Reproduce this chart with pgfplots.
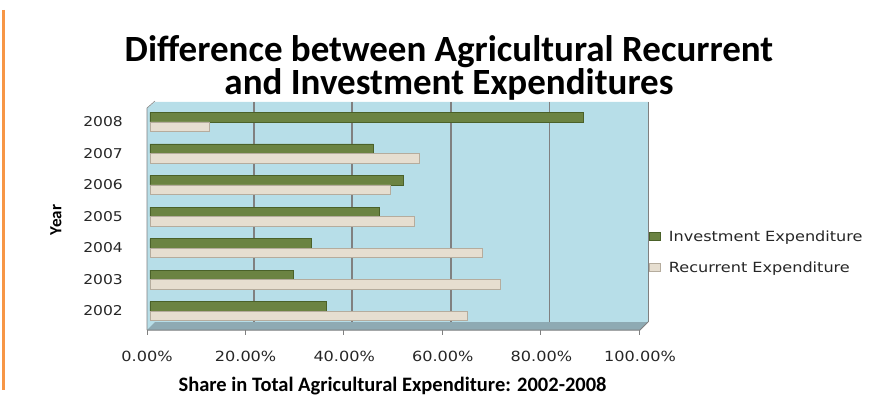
\documentclass[border=0pt]{standalone}
\usepackage{fontspec}
\setmainfont{Carlito}
\newfontfamily\lbl[FakeStretch=1.15]{DejaVu Sans}
\usepackage{pgfplots}
\pgfplotsset{compat=1.18}
\definecolor{bgblue}{HTML}{B7DEE8}
\definecolor{floorc}{HTML}{8EAAB3}
\definecolor{invc}{HTML}{6B8342}
\definecolor{invd}{HTML}{4A6129}
\definecolor{recc}{HTML}{E6DED0}
\definecolor{recd}{HTML}{B5AC9D}
\definecolor{gridc}{HTML}{808080}
\definecolor{orangec}{HTML}{F79646}
\definecolor{txt}{HTML}{262626}
\begin{document}
\begin{tikzpicture}
\path[use as bounding box] (0,0) rectangle (879pt,-396pt);
% chart frame line
\draw[orangec, line width=2.5pt] (3.5pt,-10pt) -- (3.5pt,-390pt);
% back wall and side wall
\fill[bgblue] (155pt,-102pt) -- (648pt,-102pt) -- (648pt,-322pt) -- (640pt,-330pt) -- (147pt,-330pt) -- (147pt,-108pt) -- cycle;
% floor
\fill[floorc] (147pt,-330pt) -- (640pt,-330pt) -- (648pt,-322pt) -- (155pt,-322pt) -- cycle;
\draw[gridc, line width=0.6pt] (147pt,-330pt) -- (147pt,-108pt) -- (155pt,-101pt);
\draw[gridc, line width=0.6pt] (648pt,-102pt) -- (648pt,-322pt);
\draw[gridc, line width=1pt] (147pt,-330pt) -- (640pt,-330pt) -- (648pt,-322pt);
\foreach \xx in {147,245.4,343.8,442.2,540.6,639} {\draw[gridc, line width=1pt] (\xx pt,-330pt) -- (\xx pt,-335pt);}
% back wall grid
\foreach \xx in {253.6,352.2,450.8,549.4} {\draw[gridc, line width=1.8pt] (\xx pt,-102pt) -- (\xx pt,-322pt);}
% title
\node[anchor=base, font=\bfseries\fontsize{37}{40}\selectfont, text=black, inner sep=0pt] at (449pt,-61.5pt) {Difference between Agricultural Recurrent};
\node[anchor=base, font=\bfseries\fontsize{37}{40}\selectfont, text=black, inner sep=0pt] at (449pt,-95pt) {and Investment Expenditures};
\begin{axis}[
  at={(150pt,-330pt)}, anchor=south west,
  scale only axis, width=493pt, height=227pt,
  xmin=0, xmax=100, ymin=-0.603, ymax=6.603,
  axis line style={draw=none},
  axis background/.style={fill=none},
  xbar, bar width=9.5pt,
  xtick={0,20,40,60,80,100},
  xticklabel={\pgfmathprintnumber[fixed,fixed zerofill,precision=2,assume math mode=true]{\tick}\%},
  xticklabel style={font=\lbl\fontsize{14}{16}\selectfont, text=txt, anchor=base, inner sep=0pt, yshift=-31pt, xshift=-3pt},
  ytick={0,1,2,3,4,5,6},
  yticklabels={2002,2003,2004,2005,2006,2007,2008},
  yticklabel style={font=\lbl\fontsize{13.5}{16}\selectfont, text=txt, anchor=east, inner sep=0pt, xshift=-27pt},
  major tick length=0pt,
  xlabel={Share in Total Agricultural Expenditure: 2002-2008},
  xlabel style={font=\bfseries\fontsize{20.5}{22}\selectfont, anchor=base, inner sep=0pt, at={(axis description cs:0.492,-0.2687)}},
  ylabel={Year},
  ylabel style={font=\bfseries\fontsize{17}{20}\selectfont, anchor=center, inner sep=0pt, at={(axis description cs:-0.1907,0.485)}},
  legend style={at={(axis description cs:1,0.3436)}, anchor=west, xshift=6pt, draw=none, fill=none, font=\lbl\fontsize{14}{16}\selectfont, text=txt, row sep=15pt, column sep=6pt, inner sep=0pt},
  legend cell align=left,
  legend image code/.code={\fill[#1] (0pt,-3.5pt) rectangle (11pt,4pt);},
]
\addplot[fill=invc, draw=invd, line width=0.7pt, bar shift=4.75pt] coordinates {
(35.7,0) (29.1,1) (32.8,2) (46.5,3) (51.4,4) (45.3,5) (87.8,6)};
\addlegendentry{Investment Expenditure}
\addplot[fill=recc, draw=recd, line width=0.5pt, bar shift=-4.75pt] coordinates {
(64.4,0) (71.0,1) (67.3,2) (53.5,3) (48.7,4) (54.6,5) (12.0,6)};
\addlegendentry{Recurrent Expenditure}
\end{axis}
\end{tikzpicture}
\end{document}
